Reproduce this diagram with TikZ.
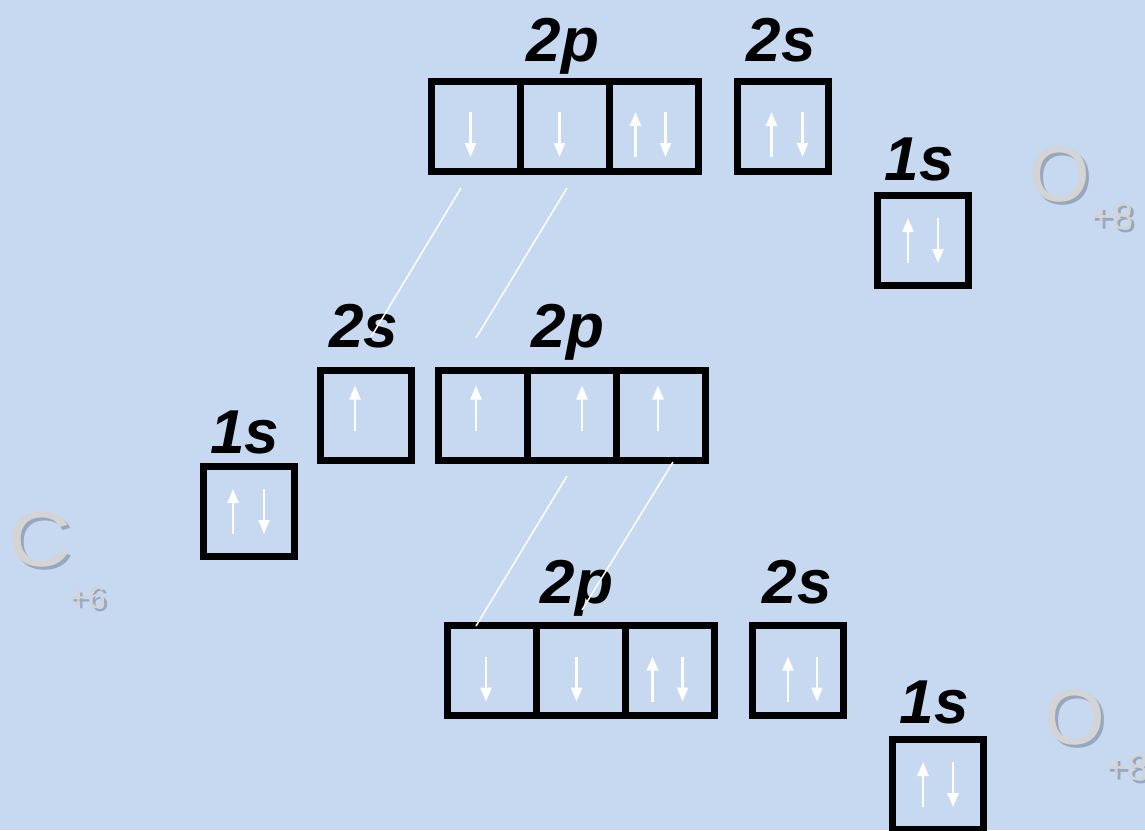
\documentclass[tikz,border=0pt]{standalone}
\usepackage{fontspec}
\newfontfamily\orbfont{Liberation Sans}
\usetikzlibrary{arrows.meta, positioning, calc}
\definecolor{ocBack}{HTML}{C6D9F1}
\definecolor{ocLetter}{HTML}{D4D4D4}
\definecolor{ocShadow}{HTML}{97A7BE}
\tikzset{
  cell/.style={draw=black, line width=7pt, minimum width=89pt, minimum height=90pt,
    inner sep=0pt, outer sep=0pt},
  lonecell/.style={cell, minimum width=91pt},
  orblabel/.style={anchor=base, inner sep=0pt,
    font=\orbfont\fontsize{62}{62}\selectfont\bfseries\itshape},
  spin/.style={white, line width=2.5pt, -{Triangle[width=11pt, length=14pt]}},
  overlap/.style={white, line width=1.5pt},
  elem/.style={anchor=base west, inner sep=0pt, text=ocLetter,
    font=\orbfont\fontsize{78}{78}\selectfont},
  charge/.style={elem, font=\orbfont\fontsize{38}{38}\selectfont},
  smallcharge/.style={elem, font=\orbfont\fontsize{32}{32}\selectfont}
}
\newcommand\spinup[3]{\draw[spin] ($(#1.center)+(#2,#3+22.5)$) -- ++(0,-45);}
\newcommand\spindn[3]{\draw[spin] ($(#1.center)+(#2,#3-22.5)$) -- ++(0,45);}
\newcommand\shadowed[1]{\makebox[0pt][l]{\kern3pt\raisebox{-3pt}{\textcolor{ocShadow}{#1}}}#1}

\begin{document}
\begin{tikzpicture}[x=1pt, y=-1pt]
  \fill[ocBack] (0,0) rectangle (1145,830);
  \useasboundingbox (0,0) rectangle (1145,830);

  % upper oxygen
  \node[cell] (ua) at (475.5,126) {};
  \node[cell, right=0pt of ua] (ub) {};
  \node[cell, right=0pt of ub] (uc) {};
  \node[lonecell] (us) at (782.5,126) {};
  \node[lonecell] (u1) at (923,240.5) {};
  \spindn{ua}{-5}{8.5} \spindn{ub}{-5}{8.5}
  \spinup{uc}{-18}{8.5} \spindn{uc}{12}{8.5}
  \spinup{us}{-11}{8.5} \spindn{us}{20}{8.5}
  \spinup{u1}{-15}{0} \spindn{u1}{15}{0}
  \node[orblabel] (ulp) at (563,61) {2p};
  \node[orblabel] (uls) at (781,61) {2s};
  \node[orblabel] (ul1) at (919,180) {1s};

  % carbon
  \node[lonecell] (ms) at (366,415.5) {};
  \node[cell] (ma) at (482.5,415.5) {};
  \node[cell, right=0pt of ma] (mb) {};
  \node[cell, right=0pt of mb] (mc) {};
  \node[lonecell] (m1) at (249,511.5) {};
  \spinup{ms}{-11}{-7.5}
  \spinup{ma}{-6.5}{-7.5} \spinup{mb}{10.5}{-7.5} \spinup{mc}{-2.5}{-7.5}
  \spinup{m1}{-16}{0} \spindn{m1}{15}{0}
  \node[orblabel] (mls) at (364,347) {2s};
  \node[orblabel] (mlp) at (568,347) {2p};
  \node[orblabel] (ml1) at (245,453) {1s};

  % lower oxygen
  \node[cell] (ba) at (491.5,670.5) {};
  \node[cell, right=0pt of ba] (bb) {};
  \node[cell, right=0pt of bb] (bc) {};
  \node[lonecell] (bs) at (798,670.5) {};
  \node[lonecell] (b1) at (938,784.5) {};
  \spindn{ba}{-5.5}{8.5} \spindn{bb}{-4}{8.5}
  \spinup{bc}{-17}{8.5} \spindn{bc}{13}{8.5}
  \spinup{bs}{-10}{8.5} \spindn{bs}{19}{8.5}
  \spinup{b1}{-15}{0} \spindn{b1}{15}{0}
  \node[orblabel] (blp) at (577,603) {2p};
  \node[orblabel] (bls) at (797,603) {2s};
  \node[orblabel] (bl1) at (934,723) {1s};

  % pairing lines
  \coordinate (l1a) at (461,188); \coordinate (l1b) at (371,337);
  \coordinate (l2a) at (567,188); \coordinate (l2b) at (476,338);
  \coordinate (l3a) at (567,476); \coordinate (l3b) at (476,626);
  \coordinate (l4a) at (673,462); \coordinate (l4b) at (582,610);
  \draw[overlap] (l1a) -- (l1b);
  \draw[overlap] (l2a) -- (l2b);
  \draw[overlap] (l3a) -- (l3b);
  \draw[overlap] (l4a) -- (l4b);

  % element symbols
  \node[elem] (elC) at (8,566) {\shadowed{\scalebox{1.12}[1]{C}}};
  \node[smallcharge] (chC) at (69,608) {\shadowed{+6}};
  \node[elem] (elOu) at (1029,201) {\shadowed{O}};
  \node[charge] (chOu) at (1090,229) {\shadowed{+8}};
  \node[elem] (elOb) at (1044,744) {\shadowed{O}};
  \node[charge] (chOb) at (1105,780) {\shadowed{+8}};
\end{tikzpicture}
\end{document}
